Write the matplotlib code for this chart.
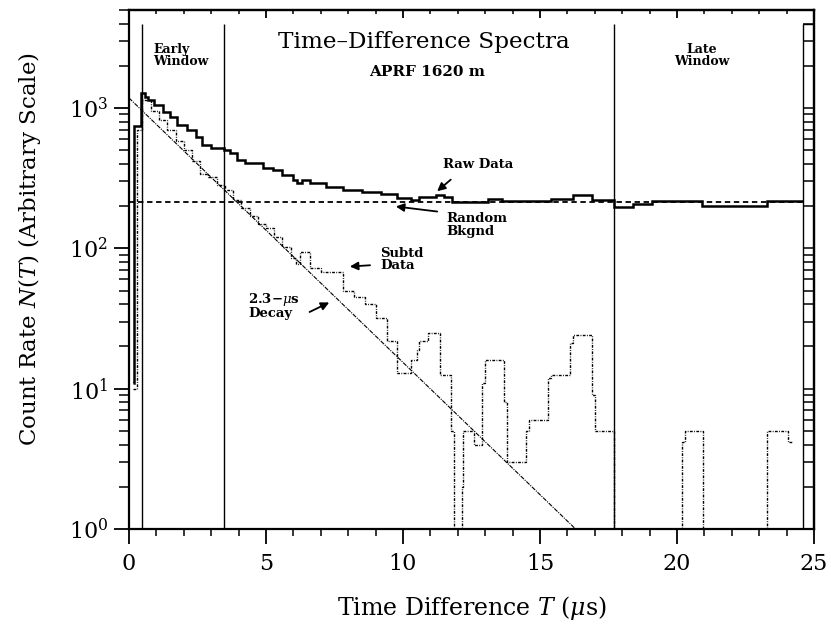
import numpy as np
import matplotlib
matplotlib.use("Agg")
import matplotlib.pyplot as plt

plt.rcParams['font.family'] = ['DejaVu Serif']
plt.rcParams['mathtext.fontset'] = 'dejavuserif'

# raw spectrum (histogram bins)
raw_edges = [0.15, 0.2, 0.45, 0.6, 0.7, 0.9, 1.25, 1.5, 1.75, 2.1,
             2.45, 2.65, 3.0, 3.45, 3.7, 3.95, 4.25, 4.9, 5.25, 5.6,
             6.0, 6.15, 6.3, 6.6, 7.2, 7.8, 8.5, 9.2, 9.8, 10.3,
             10.6, 11.2, 11.5, 11.8, 13.1, 13.6, 15.4, 16.2, 16.9, 17.72,
             18.4, 19.1, 20.9, 23.3, 24.6]
raw_vals = [11, 740, 1275, 1200, 1140, 1050, 935, 865, 760, 700,
            623, 546, 519, 500, 478, 425, 405, 375, 363, 335,
            308, 292, 308, 292, 275, 261, 252, 246, 229, 221,
            233, 240, 233, 214, 226, 216, 226, 240, 221, 197,
            207, 218, 200, 219]

# background-subtracted spectrum (0.1 = empty bin, below the axis)
sub_edges = [0.15, 0.3, 0.47, 0.8, 1.1, 1.4, 1.7, 2.0, 2.3, 2.6,
             2.9, 3.2, 3.5, 3.8, 4.1, 4.4, 4.7, 5.0, 5.3, 5.6,
             5.9, 6.1, 6.25, 6.6, 7.0, 7.8, 8.2, 8.6, 9.0, 9.4,
             9.8, 10.3, 10.5, 10.6, 10.9, 11.35, 11.75, 11.85, 12.15, 12.2,
             12.6, 12.9, 13.0, 13.7, 13.8, 14.5, 14.6, 15.3, 15.4, 16.1,
             16.2, 16.9, 17.0, 17.72, 20.2, 20.3, 20.95, 23.3, 24.05, 24.2]
sub_vals = [10, 700, 1150, 950, 820, 700, 580, 500, 420, 340,
            320, 285, 260, 220, 195, 170, 150, 140, 120, 102,
            85, 78, 94, 72, 68, 50, 45, 40, 32, 22,
            13, 16, 19, 22, 25, 12.5, 5, 0.1, 2, 5,
            4, 11, 16, 8, 3, 5, 6, 12, 12.5, 21,
            24, 9, 5, 0.1, 4.2, 5, 0.1, 5, 4.2]

bkgnd_level = 215
bkgnd_range = [0, 24.6]

# 2.3 us decay fit, end points
decay_t = [0, 16.3]
decay_n = [1180, 1.0]

window_lines = [0.47, 3.45, 17.72, 24.6]
window_top = 4000

fig = plt.figure(figsize=(8.31, 6.27), dpi=100)
ax = fig.add_axes([0.1552, 0.1563, 0.8243, 0.8278])
ax.set_yscale('log')
ax.set_xlim(0, 25)
ax.set_ylim(1, 5000)

ax.vlines(window_lines, 1, window_top, color='black', lw=1.0)
ax.hlines(window_top, window_lines[-1], 25, color='black', lw=1.0)

ax.stairs(raw_vals, raw_edges, baseline=None, color='black', lw=1.8)
ax.stairs(sub_vals, sub_edges, baseline=None, color='black', lw=1.0,
          linestyle=(0, (2, 1, 0.6, 1)))
ax.plot(bkgnd_range, [bkgnd_level, bkgnd_level], color='black', lw=1.3,
        linestyle=(0, (3, 2)))
ax.plot(decay_t, decay_n, color='black', lw=0.8, linestyle=(0, (4, 1, 1, 1)))

# text
ax.text(0.43, 0.938, 'Time\u2013Difference Spectra', transform=ax.transAxes,
        ha='center', va='center', fontsize=16.7)
ax.text(0.435, 0.88, 'APRF 1620 m', transform=ax.transAxes,
        ha='center', va='center', fontsize=11, fontweight='bold')
ax.text(0.035, 0.912, 'Early\nWindow', transform=ax.transAxes,
        ha='left', va='center', fontsize=9, fontweight='bold', linespacing=0.9)
ax.text(0.836, 0.912, 'Late\nWindow', transform=ax.transAxes,
        ha='center', va='center', fontsize=9, fontweight='bold', linespacing=0.9)

arrow = dict(arrowstyle='-|>', color='black', lw=1.3, mutation_scale=12)
ax.annotate('Raw Data', xy=(11.17, 248), xytext=(12.74, 393),
            ha='center', va='center', fontsize=9.5, fontweight='bold')
ax.annotate('', xy=(11.17, 248), xytext=(11.82, 318), arrowprops=arrow)
ax.text(11.6, 147, 'Random\nBkgnd', ha='left', va='center', fontsize=9.5,
        fontweight='bold', linespacing=0.95)
ax.annotate('', xy=(9.64, 200), xytext=(11.35, 182), arrowprops=arrow)
ax.text(9.16, 83, 'Subtd\nData', ha='left', va='center', fontsize=9.5,
        fontweight='bold', linespacing=0.95)
ax.annotate('', xy=(7.96, 74), xytext=(8.9, 76), arrowprops=arrow)
ax.text(4.34, 39, '2.3\u2212$\\mu$s\nDecay', ha='left', va='center',
        fontsize=9.5, fontweight='bold', linespacing=0.95)
ax.annotate('', xy=(7.4, 42), xytext=(6.5, 34.5), arrowprops=arrow)

# axes styling
for s in ax.spines.values():
    s.set_linewidth(1.6)
ax.set_xticks([0, 5, 10, 15, 20, 25])
ax.set_xticks(np.arange(0, 26, 1), minor=True)
ax.tick_params(axis='x', which='major', direction='out', length=11, width=1.3,
               labelsize=16, pad=6)
ax.tick_params(axis='x', which='minor', direction='out', length=5, width=1.1)
ax.tick_params(axis='y', which='major', direction='out', length=11, width=1.3,
               labelsize=16, pad=4)
ax.tick_params(axis='y', which='minor', direction='out', length=7, width=1.1)

top = ax.secondary_xaxis('top')
top.set_xticks([0, 5, 10, 15, 20, 25])
top.set_xticks(np.arange(0, 26, 1), minor=True)
top.tick_params(which='major', direction='in', length=6, width=1.3, labeltop=False)
top.tick_params(which='minor', direction='in', length=3, width=1.1)
top.spines['top'].set_linewidth(1.6)

right = ax.secondary_yaxis('right')
right.tick_params(which='major', direction='in', length=8, width=1.1, labelright=False)
right.tick_params(which='minor', direction='in', length=8, width=1.1)
right.spines['right'].set_linewidth(1.6)

ax.set_xlabel('Time Difference $T$ ($\\mu$s)', fontsize=17)
ax.set_ylabel('Count Rate $N(T)$ (Arbitrary Scale)', fontsize=16.5)
ax.xaxis.set_label_coords(0.5, -0.125)
ax.yaxis.set_label_coords(-0.126, 0.54)

fig.savefig('out.png', dpi=100, facecolor='white')
